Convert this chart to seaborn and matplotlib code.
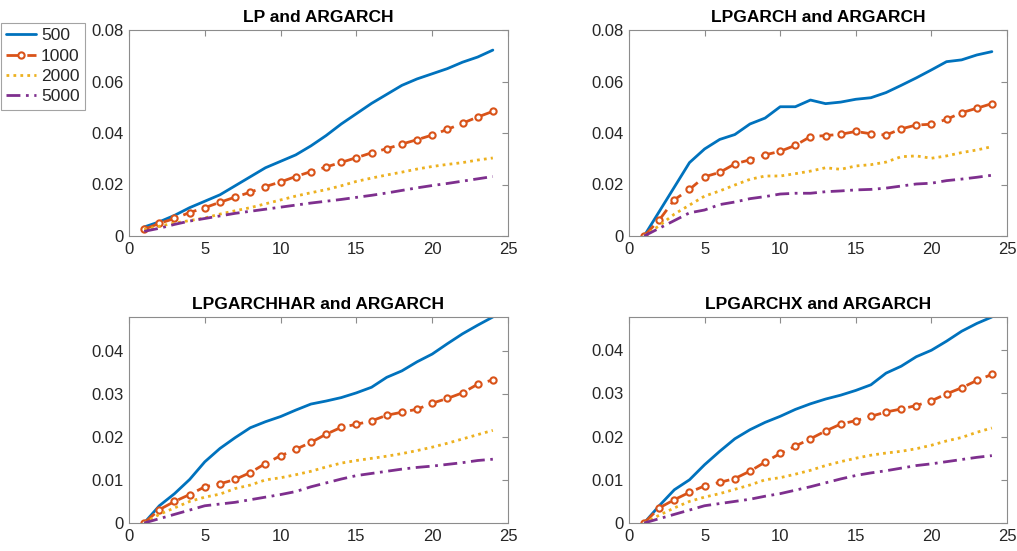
import numpy as np
import pandas as pd
import matplotlib
matplotlib.use("Agg")
import matplotlib.pyplot as plt
import seaborn as sns

horizons = list(range(1, 25))
sample_sizes = ["500", "1000", "2000", "5000"]
titles = ["LP and ARGARCH", "LPGARCH and ARGARCH",
          "LPGARCHHAR and ARGARCH", "LPGARCHX and ARGARCH"]

lp_500 = [0.0035, 0.0055, 0.008, 0.011, 0.0135, 0.016, 0.0195, 0.023, 0.0265, 0.029, 0.0315, 0.035,
          0.039, 0.0435, 0.0475, 0.0515, 0.055, 0.0585, 0.061, 0.063, 0.065, 0.0675, 0.0695, 0.0722]
lp_1000 = [0.0026, 0.0049, 0.0068, 0.0091, 0.011, 0.0131, 0.0151, 0.017, 0.0192, 0.021, 0.0231, 0.025,
           0.0268, 0.0286, 0.0304, 0.0323, 0.0339, 0.0357, 0.0374, 0.0392, 0.0414, 0.0438, 0.0462, 0.0484]
lp_2000 = [0.0025, 0.0038, 0.005, 0.006, 0.007, 0.0085, 0.0098, 0.011, 0.0125, 0.014, 0.0155, 0.0168,
           0.018, 0.0195, 0.0212, 0.0225, 0.0237, 0.0248, 0.026, 0.027, 0.0278, 0.0285, 0.0295, 0.0303]
lp_5000 = [0.0018, 0.003, 0.0045, 0.0058, 0.0068, 0.0078, 0.0088, 0.0096, 0.0104, 0.0112, 0.012, 0.0128,
           0.0135, 0.0142, 0.015, 0.0158, 0.0167, 0.0177, 0.0187, 0.0196, 0.0204, 0.0213, 0.0222, 0.0231]

lpg_500 = [0.0, 0.0095, 0.019, 0.0285, 0.0338, 0.0375, 0.0394, 0.0435, 0.0458, 0.0502, 0.0502, 0.0528,
           0.0514, 0.052, 0.0531, 0.0537, 0.0557, 0.0585, 0.0614, 0.0645, 0.0677, 0.0684, 0.0703, 0.0716]
lpg_1000 = [0.0, 0.0062, 0.0141, 0.0181, 0.023, 0.0247, 0.028, 0.0296, 0.0315, 0.0329, 0.0352, 0.0386,
            0.039, 0.0395, 0.0406, 0.0397, 0.0392, 0.0416, 0.0431, 0.0434, 0.0453, 0.0479, 0.0496, 0.0514]
lpg_2000 = [0.0, 0.004, 0.0085, 0.012, 0.0155, 0.0175, 0.0198, 0.022, 0.0233, 0.0233, 0.0242, 0.0252,
            0.0265, 0.0259, 0.0272, 0.0277, 0.0287, 0.0308, 0.0311, 0.0302, 0.0311, 0.0324, 0.0334, 0.0347]
lpg_5000 = [0.0, 0.003, 0.006, 0.009, 0.0101, 0.0122, 0.0132, 0.0145, 0.0153, 0.0163, 0.0166, 0.0166,
            0.0172, 0.0175, 0.0179, 0.0181, 0.0186, 0.0194, 0.0202, 0.0205, 0.0215, 0.0221, 0.0228, 0.0236]

har_500 = [0.0, 0.004, 0.0068, 0.0101, 0.0142, 0.0173, 0.0198, 0.0221, 0.0235, 0.0247, 0.0262, 0.0276,
           0.0283, 0.0291, 0.0302, 0.0315, 0.0338, 0.0353, 0.0374, 0.0392, 0.0416, 0.0439, 0.0459, 0.0478]
har_1000 = [0.0, 0.0031, 0.005, 0.0066, 0.0084, 0.0091, 0.0101, 0.0117, 0.0138, 0.0156, 0.0171, 0.0187,
            0.0206, 0.0222, 0.0229, 0.0237, 0.025, 0.0257, 0.0264, 0.0278, 0.0289, 0.0302, 0.0322, 0.0332]
har_2000 = [0.0, 0.002, 0.0035, 0.005, 0.006, 0.0067, 0.008, 0.0088, 0.01, 0.0105, 0.0112, 0.012,
            0.013, 0.0139, 0.0145, 0.015, 0.0155, 0.0161, 0.0168, 0.0176, 0.0185, 0.0195, 0.0205, 0.0215]
har_5000 = [0.0, 0.001, 0.002, 0.003, 0.004, 0.0044, 0.0048, 0.0054, 0.006, 0.0066, 0.0073, 0.0084,
            0.0093, 0.0102, 0.011, 0.0115, 0.012, 0.0125, 0.0129, 0.0132, 0.0136, 0.014, 0.0145, 0.0148]

x_500 = [0.0, 0.004, 0.0077, 0.01, 0.0135, 0.0166, 0.0195, 0.0216, 0.0233, 0.0247, 0.0263, 0.0276,
         0.0287, 0.0296, 0.0307, 0.032, 0.0347, 0.0363, 0.0385, 0.04, 0.0421, 0.0444, 0.0462, 0.0477]
x_1000 = [0.0, 0.0035, 0.0054, 0.0071, 0.0086, 0.0094, 0.0103, 0.012, 0.0141, 0.0161, 0.0178, 0.0195,
          0.0213, 0.0229, 0.0237, 0.0247, 0.0257, 0.0264, 0.0272, 0.0283, 0.0299, 0.0313, 0.033, 0.0344]
x_2000 = [0.0, 0.0018, 0.0035, 0.005, 0.006, 0.0068, 0.0078, 0.0088, 0.01, 0.0105, 0.0113, 0.0122,
          0.0133, 0.0142, 0.015, 0.0157, 0.0162, 0.0166, 0.0172, 0.018, 0.019, 0.0198, 0.021, 0.022]
x_5000 = [0.0, 0.001, 0.002, 0.003, 0.004, 0.0045, 0.005, 0.0055, 0.0062, 0.0068, 0.0076, 0.0084,
          0.0093, 0.0102, 0.011, 0.0116, 0.0121, 0.0127, 0.0133, 0.0137, 0.0142, 0.0147, 0.0152, 0.0156]

panels = [
    [lp_500, lp_1000, lp_2000, lp_5000],
    [lpg_500, lpg_1000, lpg_2000, lpg_5000],
    [har_500, har_1000, har_2000, har_5000],
    [x_500, x_1000, x_2000, x_5000],
]
ylims = [(0, 0.08), (0, 0.08), (0, 0.0478), (0, 0.0477)]
yticks = [[0, 0.02, 0.04, 0.06, 0.08], [0, 0.02, 0.04, 0.06, 0.08],
          [0, 0.01, 0.02, 0.03, 0.04], [0, 0.01, 0.02, 0.03, 0.04]]
ytlabels = [["0", "0.02", "0.04", "0.06", "0.08"], ["0", "0.02", "0.04", "0.06", "0.08"],
            ["0", "0.01", "0.02", "0.03", "0.04"], ["0", "0.01", "0.02", "0.03", "0.04"]]

colors = ["#0072BD", "#D95319", "#EDB120", "#7E2F8E"]
styles = {
    "500": dict(linestyle="-", marker=None),
    "1000": dict(linestyle=(0, (5, 2.5)), marker="o"),
    "2000": dict(linestyle=(0, (1, 1.5)), marker=None),
    "5000": dict(linestyle=(0, (5, 2, 1, 2)), marker=None),
}

sns.set_theme(style="white")
plt.rcParams["font.family"] = ["Liberation Sans", "DejaVu Sans"]

fig = plt.figure(figsize=(10.17, 5.51), dpi=100)
W, H = 1017, 551
positions = [(129, 30, 508, 236), (629, 30, 1007, 236),
             (129, 317, 508, 523), (629, 317, 1007, 523)]

handles = []
for p, (x0, y0, x1, y1) in enumerate(positions):
    ax = fig.add_axes([x0 / W, 1 - y1 / H, (x1 - x0) / W, (y1 - y0) / H])
    rows = []
    for s, vals in zip(sample_sizes, panels[p]):
        for h, v in zip(horizons, vals):
            rows.append({"h": h, "v": v, "n": s})
    df = pd.DataFrame(rows)
    for i, s in enumerate(sample_sizes):
        sub = df[df["n"] == s]
        st = styles[s]
        sns.lineplot(data=sub, x="h", y="v", ax=ax, color=colors[i], linewidth=2,
                     linestyle=st["linestyle"], marker=st["marker"],
                     markersize=4.5, markerfacecolor="white", markeredgecolor=colors[i],
                     markeredgewidth=1.5, label=s, legend=False, estimator=None)
    if p == 0:
        handles = ax.get_lines()[:4]
    ax.set_xlim(0, 25)
    ax.set_ylim(*ylims[p])
    ax.set_xticks([0, 5, 10, 15, 20, 25])
    ax.set_xticklabels(["0", "5", "10", "15", "20", "25"])
    ax.set_yticks(yticks[p])
    ax.set_yticklabels(ytlabels[p])
    ax.set_xlabel("")
    ax.set_ylabel("")
    ax.set_title(titles[p], fontsize=12.5, fontweight="bold", color="black", pad=6)
    for sp in ax.spines.values():
        sp.set_color("#8c8c8c")
        sp.set_linewidth(0.8)
    ax.tick_params(direction="in", top=True, right=True, length=4, width=0.8,
                   colors="#8c8c8c", labelcolor="#262626", labelsize=12, pad=4)

leg = fig.legend(handles, sample_sizes, loc="upper left",
                 bbox_to_anchor=(1 / W, 1 - 23 / H), frameon=True, fontsize=12.5,
                 handlelength=1.7, handletextpad=0.3, borderpad=0.3, labelspacing=0.3,
                 borderaxespad=0, fancybox=False)
leg.get_frame().set_edgecolor("#8c8c8c")
leg.get_frame().set_linewidth(0.8)

fig.savefig("out.png", dpi=100, facecolor="white")
